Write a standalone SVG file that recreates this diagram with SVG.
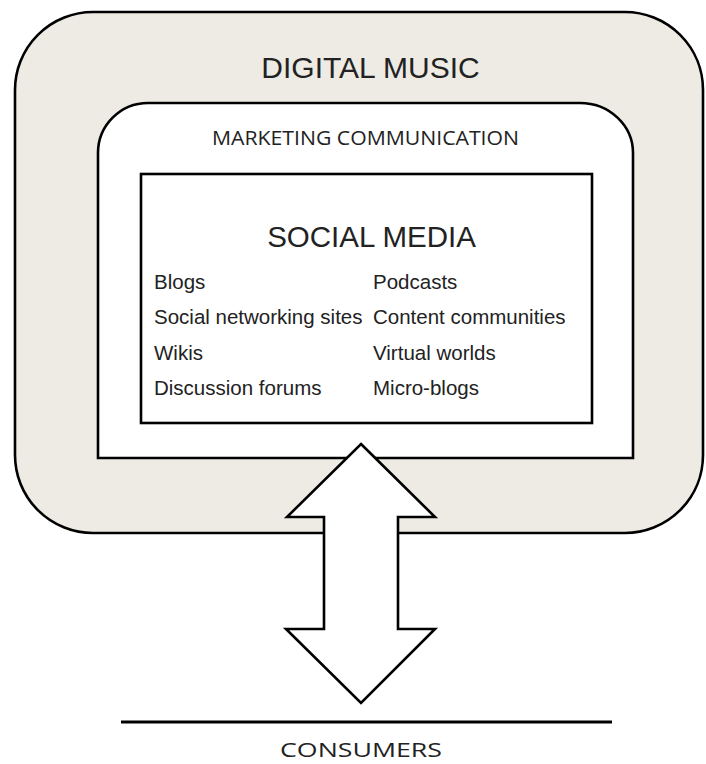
<svg xmlns="http://www.w3.org/2000/svg" width="706" height="764" viewBox="0 0 706 764">
  <style>
    .box { stroke: #000; stroke-width: 2.6; stroke-linejoin: miter; }
    .sans { font-family: "Liberation Sans", Arial, sans-serif; fill: #222; }
    .cal { font-family: "Open Sans", "Liberation Sans", sans-serif; fill: #222; }
    .item { font-size: 20.5px; }
  </style>

  <!-- outer context: digital music -->
  <g id="digital-music">
    <rect class="box" x="15" y="12" width="688" height="521" rx="78" ry="78" fill="#edebe4"/>
    <text class="sans" x="370.5" y="78" font-size="30" text-anchor="middle">DIGITAL MUSIC</text>
  </g>

  <!-- marketing communication: rounded top corners only -->
  <g id="marketing-communication">
    <path class="box" fill="#fff" d="M98,458 L98,153 A50,50 0 0 1 148,103 L580,103 A53,50 0 0 1 633,153 L633,458 Z"/>
    <text class="cal" x="365.5" y="145" font-size="20" text-anchor="middle" textLength="307" lengthAdjust="spacingAndGlyphs">MARKETING COMMUNICATION</text>
  </g>

  <!-- social media channels -->
  <g id="social-media">
    <rect class="box" x="141" y="174" width="451" height="249" fill="#fff"/>
    <text class="sans" x="371.5" y="247" font-size="29.5" text-anchor="middle">SOCIAL MEDIA</text>
    <g class="sans item">
      <text x="154" y="289">Blogs</text>
      <text x="154" y="324">Social networking sites</text>
      <text x="154" y="360">Wikis</text>
      <text x="154" y="395">Discussion forums</text>
      <text x="373" y="289">Podcasts</text>
      <text x="373" y="324">Content communities</text>
      <text x="373" y="360">Virtual worlds</text>
      <text x="373" y="395">Micro-blogs</text>
    </g>
  </g>

  <!-- two-way flow between the layers and consumers -->
  <g id="connectors">
    <path class="box" fill="#fff" d="M361,444 L435,517 L398,517 L398,629 L435,629 L361,703 L286,629 L324,629 L324,517 L287,517 Z"/>
  </g>

  <!-- consumers baseline -->
  <g id="consumers">
    <line x1="121" y1="722" x2="612" y2="722" stroke="#000" stroke-width="3"/>
    <text class="cal" x="361" y="757" font-size="20.5" text-anchor="middle" textLength="162" lengthAdjust="spacingAndGlyphs">CONSUMERS</text>
  </g>
</svg>
